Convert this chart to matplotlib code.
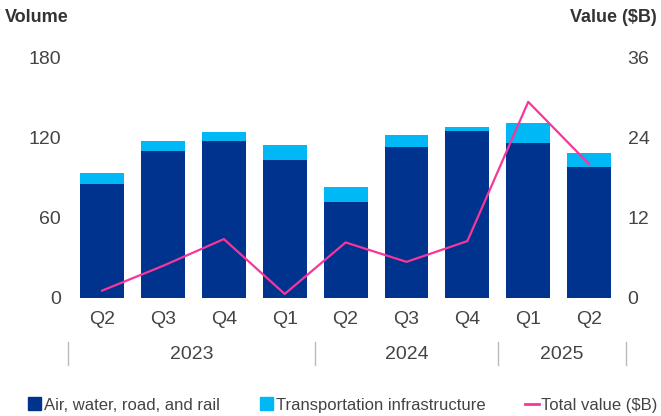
import matplotlib
matplotlib.use("Agg")
import matplotlib.pyplot as plt
from matplotlib.patches import Patch
from matplotlib.lines import Line2D

quarters = ["Q2", "Q3", "Q4", "Q1", "Q2", "Q3", "Q4", "Q1", "Q2"]
years = ["2023", "2024", "2025"]
year_bounds = [-0.56, 3.5, 6.5, 8.6]
air_water_road_rail = [85, 110, 117, 103, 72, 113, 125, 116, 98]
transport_infra = [8, 7, 7, 11, 11, 9, 3, 15, 10]
total_value = [1.1, 4.8, 8.8, 0.6, 8.3, 5.4, 8.5, 29.3, 20.0]

dark_blue = "#00338D"
light_blue = "#00B8F5"
pink = "#F7359A"
grey = "#444444"

plt.rcParams['font.family'] = ['Liberation Sans Narrow', 'Liberation Sans', 'DejaVu Sans']

fig = plt.figure(figsize=(6.61, 4.16), dpi=100)
ax = fig.add_axes([68 / 661, 1 - 298 / 416, (622 - 68) / 661, (298 - 57) / 416])
x = list(range(len(quarters)))

ax.bar(x, air_water_road_rail, width=0.72, color=dark_blue)
ax.bar(x, transport_infra, width=0.72, bottom=air_water_road_rail, color=light_blue)
ax.set_ylim(0, 180)
ax.set_xlim(-0.56, 8.54)
ax.set_yticks([0, 60, 120, 180])
ax.set_xticks(x)
ax.set_xticklabels(quarters)
ax.tick_params(length=0, labelsize=14, labelcolor=grey)
ax.tick_params(axis='x', pad=9)
ax.tick_params(axis='y', pad=5)
for s in ax.spines.values():
    s.set_visible(False)

ax2 = ax.twinx()
ax2.plot(x, total_value, color=pink, linewidth=1.6)
ax2.set_ylim(0, 36)
ax2.set_yticks([0, 12, 24, 36])
ax2.tick_params(length=0, labelsize=14, labelcolor=grey, pad=4)
for s in ax2.spines.values():
    s.set_visible(False)

# year groups under the quarter labels
for b in year_bounds:
    ax.plot([b, b], [-33, -50], color="#BBBBBB", linewidth=1, clip_on=False)
for i, yr in enumerate(years):
    mid = (year_bounds[i] + year_bounds[i + 1]) / 2
    ax.text(mid, -42.5, yr, ha="center", va="center", fontsize=14, color=grey)

fig.text(5 / 661, 1 - 17 / 416, "Volume", fontsize=13, fontweight="bold",
         color="#333333", va="center", ha="left")
fig.text(657 / 661, 1 - 17 / 416, "Value ($B)", fontsize=13, fontweight="bold",
         color="#333333", va="center", ha="right")

handles = [Patch(color=dark_blue), Patch(color=light_blue),
           Line2D([0], [0], color=pink, linewidth=2)]
labels = ["Air, water, road, and rail", "Transportation infrastructure", "Total value ($B)"]
fig.legend(handles, labels, loc="center left", bbox_to_anchor=(13 / 661, 1 - 405 / 416),
           ncol=3, frameon=False, fontsize=12, labelcolor=grey,
           handlelength=0.8, handleheight=0.8, handletextpad=0.15, columnspacing=2.4)

fig.savefig("out.png", dpi=100)
